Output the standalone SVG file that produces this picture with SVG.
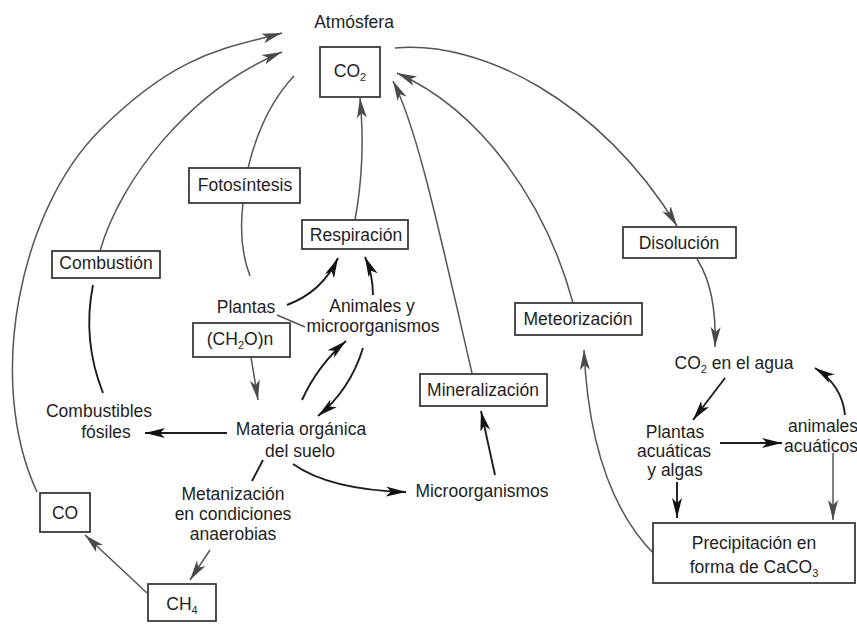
<svg xmlns="http://www.w3.org/2000/svg" width="857" height="624" viewBox="0 0 857 624">
<style>
text{font-family:"Liberation Sans",Arial,sans-serif;font-size:17.5px;fill:#1e1e1e;text-anchor:middle}
.box{fill:#fff;stroke:#3a3a3a;stroke-width:1.8}
.ln{fill:none;stroke:#555;stroke-width:1.5}
.lnd{fill:none;stroke:#1e1e1e;stroke-width:1.9}
.sub{font-size:11px}
</style>
<defs>
<marker id="ag" markerUnits="userSpaceOnUse" markerWidth="24" markerHeight="14" refX="20" refY="6" orient="auto">
<path d="M0,1 L20,6 L0,11 L5,6 Z" fill="#4a4a4a"/>
</marker>
<marker id="ad" markerUnits="userSpaceOnUse" markerWidth="24" markerHeight="14" refX="20" refY="6" orient="auto">
<path d="M0,1 L20,6 L0,11 L5,6 Z" fill="#111"/>
</marker>
</defs>

<g id="connectors">
<path class="ln" d="M37 492 C-15 380 20 210 100 130 S230 48 282 33" marker-end="url(#ag)"/>
<path class="ln" d="M100 251 C120 180 190 90 282 52" marker-end="url(#ag)"/>
<path class="lnd" d="M93 285 Q82 340 103 393"/>
<path class="ln" d="M294 76 Q262 110 248 168"/>
<path class="ln" d="M243 203 Q238 245 250 276"/>
<path class="ln" d="M355 220 Q366 160 360 98" marker-end="url(#ag)"/>
<path class="ln" d="M472 373 C440 235 418 130 393 81" marker-end="url(#ag)"/>
<path class="ln" d="M573 303 C545 200 480 110 397 73" marker-end="url(#ag)"/>
<path class="ln" d="M395 48 C480 40 600 100 677 226" marker-end="url(#ag)"/>
<path class="ln" d="M697 259 Q717 290 715 347" marker-end="url(#ag)"/>
<path class="ln" d="M655 555 C610 510 588 440 584 350" marker-end="url(#ag)"/>
<path class="lnd" d="M287 305 Q322 292 338 258" marker-end="url(#ad)"/>
<path class="lnd" d="M373 295 Q373 275 365 257" marker-end="url(#ad)"/>
<path class="ln" d="M277 315 L305 327"/>
<path class="ln" d="M251 357 L258 400" marker-end="url(#ag)"/>
<path class="lnd" d="M302 400 Q318 365 346 341" marker-end="url(#ad)"/>
<path class="lnd" d="M363 348 Q350 390 318 416" marker-end="url(#ad)"/>
<path class="lnd" d="M227 433 L145 433" marker-end="url(#ad)"/>
<path class="lnd" d="M263 460 L252 481"/>
<path class="lnd" d="M293 464 Q330 490 406 492" marker-end="url(#ad)"/>
<path class="ln" d="M210 550 L190 580" marker-end="url(#ag)"/>
<path class="ln" d="M147 593 L85 535" marker-end="url(#ag)"/>
<path class="lnd" d="M495 475 L481 411" marker-end="url(#ad)"/>
<path class="lnd" d="M725 378 L693 420" marker-end="url(#ad)"/>
<path class="lnd" d="M720 443 L782 443" marker-end="url(#ad)"/>
<path class="lnd" d="M845 415 Q842 385 815 368" marker-end="url(#ad)"/>
<path class="lnd" d="M677 482 L677 518" marker-end="url(#ad)"/>
<path class="ln" d="M833 453 L833 520" marker-end="url(#ag)"/>
</g>

<g id="atmosfera"><text x="354" y="28">Atmósfera</text></g>
<g id="co2"><rect class="box" x="320" y="47" width="60" height="50"/><text x="350" y="77">CO<tspan class="sub" dy="4">2</tspan></text></g>
<g id="fotosintesis"><rect class="box" x="189" y="168" width="111" height="35"/><text x="245" y="191">Fotosíntesis</text></g>
<g id="respiracion"><rect class="box" x="302" y="220" width="106" height="29"/><text x="356" y="241">Respiración</text></g>
<g id="combustion"><rect class="box" x="52" y="251" width="108" height="27"/><text x="106" y="269">Combustión</text></g>
<g id="plantas"><text x="246" y="313">Plantas</text></g>
<g id="animales"><text x="372" y="312">Animales y</text><text x="373" y="332">microorganismos</text></g>
<g id="ch2on"><rect class="box" x="193" y="323" width="97" height="34"/><text x="240" y="345">(CH<tspan class="sub" dy="4">2</tspan><tspan dy="-4">O)n</tspan></text></g>
<g id="materia"><text x="301" y="435">Materia orgánica</text><text x="300" y="457">del suelo</text></g>
<g id="combustibles"><text x="99" y="417">Combustibles</text><text x="106" y="438">fósiles</text></g>
<g id="metanizacion"><text x="233" y="500">Metanización</text><text x="233" y="520">en condiciones</text><text x="233" y="540">anaerobias</text></g>
<g id="microorganismos"><text x="482" y="497">Microorganismos</text></g>
<g id="mineralizacion"><rect class="box" x="420" y="374" width="127" height="32"/><text x="483" y="396">Mineralización</text></g>
<g id="meteorizacion"><rect class="box" x="515" y="303" width="127" height="32"/><text x="578" y="325">Meteorización</text></g>
<g id="disolucion"><rect class="box" x="623" y="227" width="113" height="31"/><text x="679" y="249">Disolución</text></g>
<g id="co2agua"><text x="734" y="369">CO<tspan class="sub" dy="4">2</tspan><tspan dy="-4"> en el agua</tspan></text></g>
<g id="plantasacuaticas"><text x="675" y="438">Plantas</text><text x="674" y="457">acuáticas</text><text x="675" y="476">y algas</text></g>
<g id="animalesacuaticos"><text x="788" y="432" style="text-anchor:start">animales</text><text x="784" y="452" style="text-anchor:start">acuáticos</text></g>
<g id="precipitacion"><rect class="box" x="653" y="523" width="202" height="60"/><text x="754" y="549">Precipitación en</text><text x="754" y="573">forma de CaCO<tspan class="sub" dy="4">3</tspan></text></g>
<g id="co"><rect class="box" x="40" y="493" width="50" height="39"/><text x="65" y="519">CO</text></g>
<g id="ch4"><rect class="box" x="148" y="584" width="68" height="37"/><text x="182" y="610">CH<tspan class="sub" dy="4">4</tspan></text></g>
</svg>
